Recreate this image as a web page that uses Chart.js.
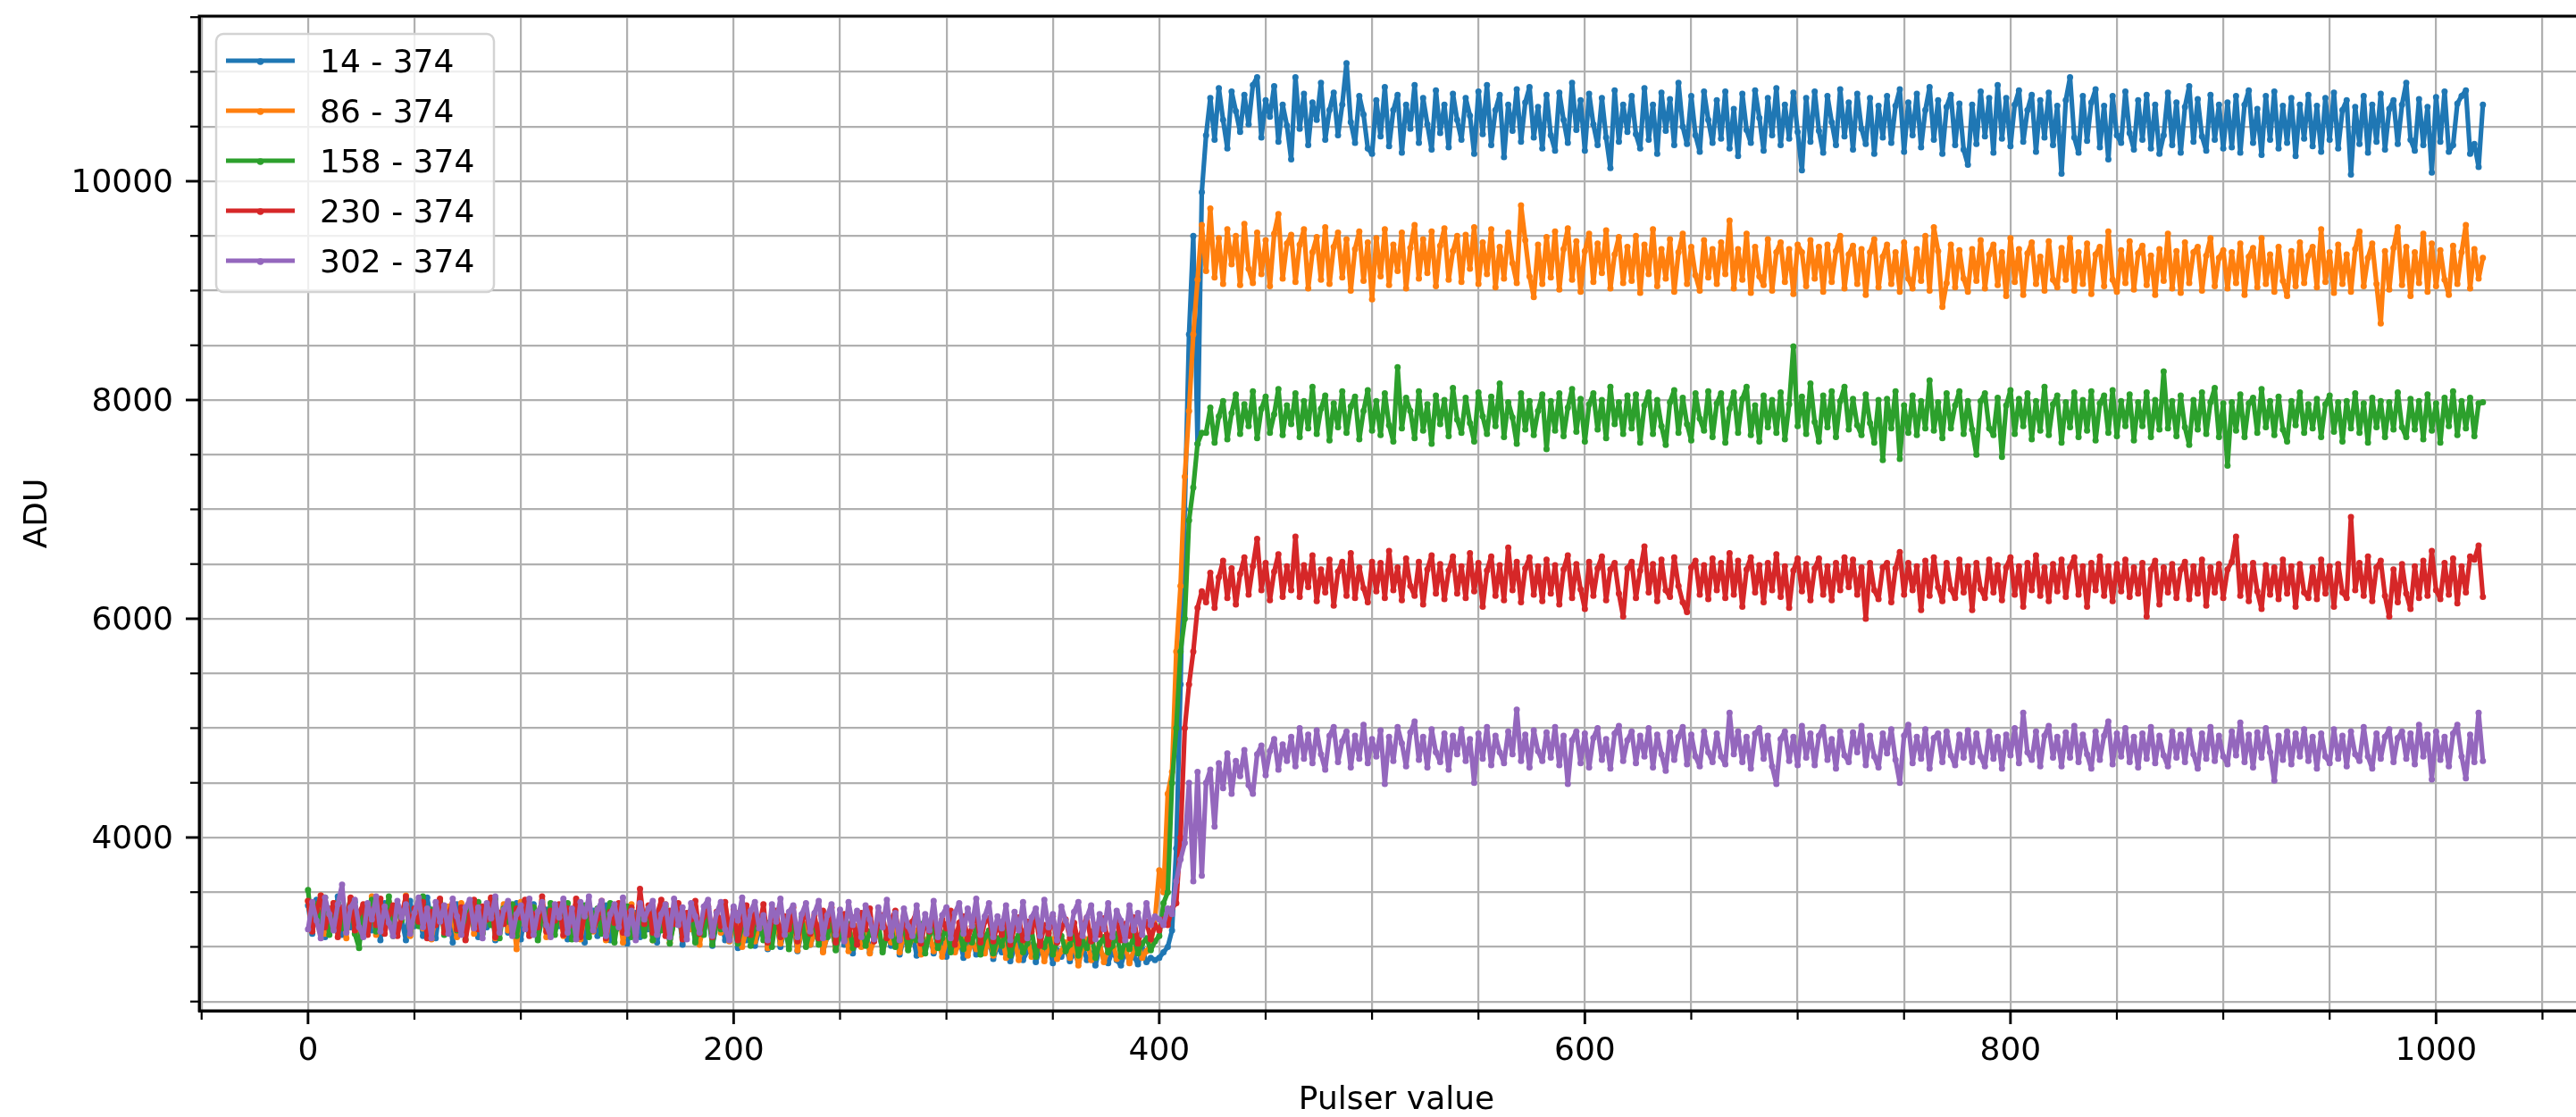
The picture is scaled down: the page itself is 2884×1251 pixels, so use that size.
<!DOCTYPE html>
<html>
<head>
<meta charset="utf-8">
<title>ADU vs pulser value</title>
<script src="https://cdn.jsdelivr.net/npm/chart.js@4/dist/chart.umd.min.js"></script>
<style>
html, body { margin: 0; padding: 0; background: #ffffff; }
#wrap { width: 2884px; height: 1251px; overflow: hidden; position: relative; background: #ffffff; }
canvas { display: block; }
</style>
</head>
<body>
<div id="wrap"><canvas id="chart" width="2960" height="1251"></canvas></div>
<script>
// Pulser settings (x values shared by every curve)
const pulser = [0,2,4,6,8,10,12,14,16,18,20,22,24,26,28,30,32,34,36,38,40,42,44,46,48,50,52,54,56,58,60,62,64,66,68,70,72,74,76,78,80,82,84,86,88,90,92,94,96,98,100,102,104,106,108,110,112,114,116,118,120,122,124,126,128,130,132,134,136,138,140,142,144,146,148,150,152,154,156,158,160,162,164,166,168,170,172,174,176,178,180,182,184,186,188,190,192,194,196,198,200,202,204,206,208,210,212,214,216,218,220,222,224,226,228,230,232,234,236,238,240,242,244,246,248,250,252,254,256,258,260,262,264,266,268,270,272,274,276,278,280,282,284,286,288,290,292,294,296,298,300,302,304,306,308,310,312,314,316,318,320,322,324,326,328,330,332,334,336,338,340,342,344,346,348,350,352,354,356,358,360,362,364,366,368,370,372,374,376,378,380,382,384,386,388,390,392,394,396,398,400,402,404,406,408,410,412,414,416,418,420,422,424,426,428,430,432,434,436,438,440,442,444,446,448,450,452,454,456,458,460,462,464,466,468,470,472,474,476,478,480,482,484,486,488,490,492,494,496,498,500,502,504,506,508,510,512,514,516,518,520,522,524,526,528,530,532,534,536,538,540,542,544,546,548,550,552,554,556,558,560,562,564,566,568,570,572,574,576,578,580,582,584,586,588,590,592,594,596,598,600,602,604,606,608,610,612,614,616,618,620,622,624,626,628,630,632,634,636,638,640,642,644,646,648,650,652,654,656,658,660,662,664,666,668,670,672,674,676,678,680,682,684,686,688,690,692,694,696,698,700,702,704,706,708,710,712,714,716,718,720,722,724,726,728,730,732,734,736,738,740,742,744,746,748,750,752,754,756,758,760,762,764,766,768,770,772,774,776,778,780,782,784,786,788,790,792,794,796,798,800,802,804,806,808,810,812,814,816,818,820,822,824,826,828,830,832,834,836,838,840,842,844,846,848,850,852,854,856,858,860,862,864,866,868,870,872,874,876,878,880,882,884,886,888,890,892,894,896,898,900,902,904,906,908,910,912,914,916,918,920,922,924,926,928,930,932,934,936,938,940,942,944,946,948,950,952,954,956,958,960,962,964,966,968,970,972,974,976,978,980,982,984,986,988,990,992,994,996,998,1000,1002,1004,1006,1008,1010,1012,1014,1016,1018,1020,1022];

// ADU readings, one array per channel range
const adu14 = [
3380,3120,3430,3200,3090,3350,3240,3460,3110,3300,3180,3410,3070,3290,3360,3150,3320,3060,3400,3230,
3120,3380,3250,3060,3420,3190,3330,3100,3450,3230,3080,3360,3170,3310,3040,3390,3210,3130,3350,3270,
3090,3320,3180,3420,3060,3280,3370,3130,3260,3400,3070,3300,3160,3390,3080,3250,3340,3110,3300,3190,
3360,3070,3290,3180,3400,3040,3260,3330,3100,3240,3380,3060,3280,3170,3350,3030,3220,3310,3090,3270,
3160,3330,3040,3250,3300,3070,3220,3360,3020,3190,3280,3050,3240,3130,3310,3010,3200,3260,3060,3170,
3250,2990,3180,3060,3270,3010,3150,3230,2980,3120,3240,3000,3160,3080,3220,2960,3130,3190,3020,3110,
3180,2960,3090,3170,2980,3140,3020,3200,2940,3100,3030,3160,2950,3080,3130,2970,3110,3010,3150,2930,
3080,3010,3130,2920,3060,2990,3120,2940,3040,3090,2910,3050,2980,3100,2900,3030,3070,2930,3010,2960,
3060,2890,3000,2950,3070,2870,2990,3040,2880,2960,3020,2860,2980,2930,3030,2850,2970,2910,3000,2870,
2950,2860,3010,2880,2940,2830,2990,2900,2850,2970,2880,2830,2960,2870,2920,2840,2980,2860,2900,2880,
2900,2950,3000,3150,3900,5400,7000,8600,9500,7600,9900,
10420,10760,10380,10850,10560,10300,10820,10640,10450,10790,10520,10880,10950,10400,10740,10590,10870,10360,10700,10510,
10200,10950,10480,10800,10330,10720,10560,10900,10380,10650,10810,10420,10700,11080,10540,10350,10780,10610,10300,10250,
10740,10410,10860,10320,10650,10790,10260,10700,10480,10880,10350,10760,10520,10290,10830,10440,10700,10310,10800,10560,
10380,10760,10600,10250,10820,10430,10880,10330,10650,10790,10220,10700,10460,10840,10360,10720,10860,10400,10680,10300,
10790,10420,10280,10810,10560,10350,10900,10470,10740,10280,10800,10520,10330,10760,10400,10120,10830,10360,10700,10450,
10780,10430,10300,10850,10380,10700,10250,10810,10460,10750,10330,10900,10500,10340,10780,10420,10270,10820,10560,10350,
10740,10390,10820,10300,10660,10230,10800,10470,10350,10830,10580,10280,10760,10420,10850,10330,10700,10390,10810,10450,
10100,10760,10360,10820,10460,10260,10780,10540,10330,10840,10410,10720,10290,10800,10480,10340,10760,10250,10690,10400,
10780,10350,10690,10840,10270,10720,10420,10800,10310,10650,10860,10380,10740,10250,10680,10790,10330,10710,10290,10150,
10700,10340,10820,10410,10760,10260,10880,10390,10760,10320,10700,10830,10360,10650,10790,10270,10740,10400,10810,10330,
10690,10070,10740,10950,10400,10260,10780,10370,10720,10840,10310,10690,10200,10780,10420,10350,10820,10440,10290,10740,
10380,10790,10300,10700,10250,10420,10810,10330,10720,10260,10680,10870,10360,10750,10410,10280,10790,10380,10700,10300,
10720,10310,10780,10260,10700,10830,10350,10660,10240,10780,10380,10820,10300,10690,10350,10760,10230,10700,10390,10790,
10320,10690,10270,10760,10380,10810,10300,10650,10740,10060,10680,10340,10780,10260,10700,10360,10800,10290,10660,10740,
10340,10700,10900,10380,10280,10750,10330,10680,10080,10770,10360,10820,10270,10330,10710,10780,10830,10250,10340,10130,
10700];

const adu86 = [
3420,3150,3330,3470,3120,3290,3400,3180,3350,3080,3440,3230,3130,3380,3260,3460,3110,3300,3190,3410,
3140,3360,3250,3470,3100,3300,3410,3170,3330,3070,3280,3430,3160,3370,3240,3090,3400,3210,3330,3120,
3350,3130,3290,3440,3080,3260,3390,3150,3320,2980,3410,3200,3120,3360,3250,3430,3090,3300,3180,3380,
3100,3330,3210,3420,3070,3280,3360,3140,3250,3400,3060,3290,3180,3350,3040,3260,3390,3130,3300,3200,
3350,3060,3250,3180,3390,3040,3230,3310,3090,3280,3160,3360,3020,3210,3300,3070,3260,3130,3340,3050,
3200,3310,3000,3160,3250,3050,3190,3280,2990,3140,3230,3030,3180,3090,3260,2970,3150,3210,3020,3120,
3200,2950,3100,3170,2990,3140,3220,2960,3080,3190,3000,3120,2940,3060,3160,2980,3110,3040,3190,2950,
3120,2990,3070,3150,2930,3040,3110,2960,3090,2910,3060,3130,2950,3020,3100,2920,3050,2980,3120,2940,
3080,2920,3030,3110,2900,2990,3060,2880,3010,3090,2910,2970,3050,2870,3000,3070,2890,2960,3040,2900,
3050,2830,2990,3070,2880,2950,3030,2860,2980,3060,2890,2940,3010,2850,2970,3040,2900,2960,3020,3250,
3700,3500,4400,4600,5700,6300,7300,7900,8600,9100,9600,
9180,9750,9120,9480,9060,9560,9240,9500,9050,9610,9200,9070,9530,9150,9460,9040,9520,9700,9110,9430,
9510,9080,9420,9560,9020,9350,9490,9100,9580,9060,9400,9530,9120,9470,9000,9380,9540,9090,9440,8920,
9480,9130,9560,9050,9420,9180,9530,9020,9390,9600,9110,9470,9160,9540,9040,9410,9570,9100,9360,9500,
9080,9510,9200,9580,9060,9440,9150,9560,9030,9400,9110,9530,9250,9070,9780,9460,9130,8940,9420,9060,
9490,9120,9540,9010,9380,9570,9100,9450,8990,9360,9520,9080,9430,9160,9550,9020,9330,9490,9070,9400,
9090,9500,8980,9420,9150,9560,9040,9380,9110,9470,8990,9350,9520,9060,9400,9140,9000,9460,9120,9380,
9060,9440,9150,9640,9020,9380,9100,9520,8980,9400,9130,9050,9470,9000,9350,9440,9080,9380,8970,9420,
9350,9040,9460,9110,9400,8990,9420,9080,9360,9500,9020,9330,9410,9060,9380,8960,9350,9470,9030,9310,
9420,9060,9350,8990,9440,9110,9020,9380,9090,9500,9000,9580,9360,8850,9070,9420,9030,9370,9110,8990,
9380,9090,9460,9020,9330,9420,9050,9350,8950,9480,9080,9380,8960,9340,9440,9060,9310,9000,9450,9100,
9030,9390,9100,9480,9000,9350,9060,9430,8970,9330,9400,9040,9540,9100,8990,9370,9070,9450,9010,9340,
9410,9050,9320,8960,9380,9090,9520,9020,9360,8980,9440,9070,9350,9400,9000,9320,9480,9040,9300,9370,
9020,9350,9070,9430,8960,9310,9390,9030,9480,9060,9330,8990,9400,9090,8950,9360,9040,9440,9070,9320,
9400,9030,9560,9080,9350,8980,9420,9060,9330,8990,9380,9540,9040,9300,9430,9060,8700,9360,9010,9390,
9580,9050,9400,8950,9350,9070,9520,8990,9430,9040,9370,9100,8960,9410,9060,9350,9600,9020,9380,9110,
9300];

const adu158 = [
3520,3160,3390,3220,3450,3110,3330,3400,3170,3290,3440,3120,2990,3360,3210,3430,3140,3320,3250,3460,
3100,3370,3240,3430,3130,3300,3190,3460,3090,3340,3250,3410,3110,3280,3380,3150,3330,3070,3400,3200,
3410,3120,3300,3200,3440,3080,3350,3230,3390,3100,3290,3420,3140,3360,3060,3310,3190,3400,3110,3330,
3220,3400,3070,3310,3170,3380,3090,3290,3350,3120,3260,3400,3040,3300,3180,3370,3090,3250,3330,3100,
3340,3060,3250,3150,3370,3030,3220,3300,3090,3260,3330,3040,3200,3110,3350,3020,3240,3160,3310,3070,
3260,3030,3190,3300,3010,3170,3250,3060,3220,3000,3280,3110,3190,2980,3230,3080,3270,3000,3160,3210,
3020,3190,3090,3250,2970,3150,3060,3210,2990,3120,3200,3010,3140,3070,3230,2950,3110,3180,3000,3130,
3190,2970,3100,3060,3210,2940,3120,3170,2990,3080,3190,2950,3090,3150,2980,3110,3040,3180,2930,3090,
3150,2940,3080,3010,3170,2920,3060,3110,2950,3030,3160,2910,3070,3000,3130,2930,3050,3100,2960,3020,
3130,2920,3050,2990,3140,2900,3030,3090,2950,3010,3120,2910,3060,2980,3100,2940,3030,3080,2970,3050,
3100,3400,3500,4500,5000,5700,6000,6900,7200,7600,7700,
7700,7930,7610,7850,7990,7640,7880,8050,7690,7960,7760,8080,7650,7920,8030,7700,7870,8100,7680,7950,
7780,8060,7660,7990,7740,8120,7690,7920,8040,7630,7970,7750,8080,7700,7940,8030,7640,7900,8090,7720,
7990,7680,8060,7770,7620,8300,7740,8020,7900,7650,8080,7720,7960,7600,8040,7780,8000,7670,8110,7820,
7700,8020,7790,7620,8070,7850,7690,8030,7760,8150,7660,7980,7840,7600,8060,7730,7990,7680,7900,8050,
7550,7990,7720,8060,7670,7930,8100,7710,8010,7620,7960,8060,7730,8000,7650,8120,7780,7980,7690,8040,
7740,8050,7610,7950,8070,7690,8000,7760,7590,7980,8090,7700,8020,7780,7630,8060,7830,7720,8080,7660,
7970,8060,7610,7920,8070,7700,8010,8120,7680,7950,7620,8040,7750,8000,7700,8070,7640,7960,8490,7760,
8030,7690,8150,7800,7620,8040,7750,8080,7660,7990,8120,7730,8010,7770,7680,8050,7790,7610,8000,7450,
8010,7740,8080,7460,7950,7700,8040,7680,7990,7740,8180,7720,7980,7650,8060,7740,7950,8080,7690,7990,
7730,7500,7990,8060,7740,7680,8020,7480,7950,8090,7690,8010,7760,8060,7640,7990,7720,8120,7680,7960,
8040,7610,7980,7750,8070,7660,8000,7720,8080,7630,7970,8040,7700,8090,7670,7990,7760,8050,7630,7980,
7760,8070,7660,8000,7730,8260,7740,7990,7670,8040,7750,7590,8000,7730,8070,7690,7980,8110,7660,7970,
7400,7980,7720,8050,7660,7970,8020,7700,8100,7750,7990,7680,8030,7730,7620,7990,7770,8070,7700,7960,
7740,8010,7660,7960,8040,7710,7980,7620,7990,7740,8060,7700,7970,7610,8020,7750,7990,7660,7980,7730,
8070,7750,7660,8010,7730,7990,7640,8050,7720,7970,7610,8020,7760,8080,7680,7990,7740,8020,7670,7970,
7980];

const adu230 = [
3420,3140,3330,3470,3180,3280,3400,3090,3360,3230,3450,3150,3310,3390,3110,3340,3200,3440,3120,3300,
3380,3100,3290,3460,3170,3350,3230,3410,3080,3320,3200,3440,3130,3300,3400,3160,3360,3060,3290,3430,
3160,3370,3250,3450,3090,3310,3210,3400,3120,3350,3270,3430,3100,3300,3180,3460,3140,3330,3240,3390,
3110,3350,3200,3440,3090,3300,3380,3150,3260,3420,3080,3320,3220,3400,3130,3290,3360,3100,3530,3210,
3380,3130,3290,3430,3100,3330,3210,3400,3070,3310,3250,3420,3120,3280,3370,3090,3320,3190,3410,3140,
3340,3060,3260,3380,3110,3300,3170,3390,3040,3250,3330,3090,3280,3160,3360,3050,3240,3310,3120,3290,
3080,3330,3190,3360,3040,3240,3300,3110,3270,3020,3310,3160,3350,3050,3220,3290,3080,3250,3330,3060,
3280,3090,3230,3320,3030,3210,3140,3300,3060,3250,3170,3330,3020,3220,3280,3070,3190,3310,3040,3230,
3260,3050,3200,3110,3300,3020,3180,3270,3060,3230,3140,3290,3010,3200,3120,3280,3040,3170,3250,3080,
3220,3030,3180,3270,3050,3200,3110,3260,3020,3170,3240,3060,3210,3100,3270,3030,3160,3230,3070,3200,
3150,3250,3200,3350,3400,4000,5000,5400,5700,6100,6250,
6150,6420,6100,6380,6530,6190,6460,6130,6410,6560,6220,6480,6730,6260,6510,6170,6430,6590,6200,6480,
6260,6750,6200,6490,6290,6580,6160,6450,6240,6540,6120,6430,6520,6210,6600,6190,6470,6280,6150,6520,
6250,6510,6190,6620,6260,6470,6170,6550,6300,6210,6520,6130,6450,6580,6230,6500,6180,6440,6570,6230,
6480,6190,6600,6250,6510,6110,6440,6570,6210,6490,6170,6650,6260,6520,6150,6460,6560,6220,6480,6160,
6540,6230,6490,6130,6450,6580,6190,6500,6270,6090,6520,6210,6460,6570,6170,6450,6510,6230,6020,6460,
6520,6190,6440,6660,6240,6500,6160,6540,6260,6200,6560,6300,6150,6060,6470,6530,6220,6490,6180,6550,
6260,6510,6190,6600,6220,6530,6110,6450,6560,6240,6490,6150,6510,6260,6590,6200,6480,6100,6440,6550,
6250,6500,6170,6460,6550,6220,6480,6170,6510,6260,6560,6290,6540,6220,6470,6000,6510,6260,6180,6470,
6510,6150,6460,6610,6220,6510,6260,6480,6080,6530,6210,6560,6290,6160,6510,6270,6190,6540,6240,6480,
6080,6510,6270,6190,6540,6240,6490,6170,6470,6560,6220,6480,6110,6510,6260,6580,6210,6470,6160,6500,
6250,6540,6200,6470,6560,6220,6480,6110,6510,6260,6570,6210,6480,6160,6500,6250,6540,6200,6470,6230,
6510,6020,6450,6530,6130,6470,6240,6500,6190,6450,6520,6180,6480,6230,6540,6120,6470,6240,6500,6190,
6450,6520,6750,6210,6480,6160,6510,6250,6090,6490,6220,6470,6180,6540,6230,6480,6110,6500,6240,6190,
6470,6180,6540,6230,6480,6110,6500,6240,6190,6930,6260,6510,6210,6570,6160,6470,6530,6210,6020,6450,
6150,6500,6230,6090,6480,6190,6530,6210,6620,6260,6180,6510,6220,6550,6140,6480,6240,6570,6540,6670,
6200];

const adu302 = [
3160,3410,3240,3080,3450,3300,3150,3390,3570,3130,3360,3430,3180,3090,3400,3250,3460,3140,3370,3220,
3100,3420,3270,3390,3120,3310,3450,3180,3350,3080,3410,3230,3380,3120,3440,3280,3110,3360,3430,3170,
3360,3080,3400,3260,3460,3130,3340,3420,3100,3300,3380,3160,3440,3110,3320,3410,3200,3090,3390,3270,
3440,3130,3350,3070,3410,3280,3460,3150,3340,3420,3100,3300,3390,3180,3450,3120,3330,3060,3400,3250,
3350,3420,3110,3300,3390,3090,3440,3200,3360,3070,3400,3280,3130,3370,3430,3100,3310,3410,3160,3060,
3370,3240,3450,3120,3330,3410,3170,3290,3060,3390,3230,3440,3110,3320,3380,3090,3300,3400,3140,3310,
3420,3080,3290,3390,3110,3340,3050,3410,3200,3330,3090,3380,3250,3070,3360,3180,3430,3100,3310,3060,
3350,3190,3100,3380,3060,3300,3150,3420,3090,3290,3360,3080,3310,3400,3120,3350,3190,3440,3110,3280,
3400,3090,3280,3170,3380,3060,3320,3150,3410,3080,3270,3350,3100,3430,3180,3300,3060,3370,3240,3120,
3320,3410,3100,3270,3380,3070,3300,3160,3400,3090,3330,3240,3060,3380,3150,3310,3110,3400,3200,3280,
3250,3200,3350,3300,3600,3800,3950,4500,3600,4600,3650,
4500,4620,4100,4680,4450,4770,4400,4700,4560,4800,4480,4400,4760,4840,4570,4790,4900,4620,4850,4700,
4920,4650,5000,4720,4940,4680,4980,4760,4620,4930,5010,4690,4880,4970,4640,4930,4720,5030,4680,4900,
4740,4980,4490,4920,4700,5010,4860,4650,4960,5060,4710,4920,4640,4990,4780,4690,4950,4620,4930,4760,
4990,4700,4900,4500,4950,4720,5010,4660,4930,4780,4680,4970,4760,5170,4700,4940,4640,4980,4790,4700,
4960,4730,5010,4660,4930,4490,4890,4970,4680,4950,4640,4910,5000,4710,4900,4630,4950,5020,4700,4890,
4970,4680,4930,4740,5000,4640,4940,4760,4610,4960,4710,4920,5010,4670,4940,4740,4650,4970,4780,4690,
4950,4740,4670,5140,4760,4970,4690,4920,4630,4950,5000,4720,4930,4650,4490,4900,4970,4700,4920,4660,
5020,4730,4950,4660,4930,5010,4710,4900,4630,4970,4750,4690,4960,4780,5020,4660,4930,4740,4640,4950,
4770,4990,4710,4500,4930,5030,4680,4920,4720,4990,4630,4910,4950,4690,4970,4750,4660,4940,4730,4980,
4690,4950,4740,4650,4970,4720,4920,4630,4940,4750,5000,4680,5140,4780,4710,4970,4650,4930,5020,4730,
4920,4650,4960,4730,5020,4690,4940,4760,4630,4970,4710,4930,5060,4670,4950,4740,5000,4690,4920,4640,
4950,4720,5010,4680,4930,4750,4650,4970,4730,4940,4690,4980,4760,4630,4950,4720,5010,4700,4930,4740,
4670,4970,4750,5050,4690,4940,4640,4960,4730,5000,4780,4520,4930,4710,4970,4670,4950,4740,4990,4700,
4920,4630,4950,4740,4680,4990,4720,4930,4650,4970,4760,4700,5010,4740,4630,4950,4720,4920,4990,4690,
4910,4970,4720,4950,4670,5030,4740,4940,4530,4970,4710,4920,4650,4950,5030,4740,4540,4940,4690,5140,
4700];

const seriesLabels = ['14 - 374', '86 - 374', '158 - 374', '230 - 374', '302 - 374'];
const seriesValues = [adu14, adu86, adu158, adu230, adu302];
const seriesColors = ['#1f77b4', '#ff7f0e', '#2ca02c', '#d62728', '#9467bd'];

// Grid positions; labelled (major) ticks are listed separately
const xGridValues = [-50,0,50,100,150,200,250,300,350,400,450,500,550,600,650,700,750,800,850,900,950,1000,1050];
const yGridValues = [2500,3000,3500,4000,4500,5000,5500,6000,6500,7000,7500,8000,8500,9000,9500,10000,10500,11000,11500];
const xTickLabels = [0, 200, 400, 600, 800, 1000];
const yTickLabels = [4000, 6000, 8000, 10000];

const FONT = '"DejaVu Sans", "Liberation Sans", sans-serif';

// Tick marks (long for labelled ticks, short for minor ones) and the axes frame
const frameAndTicks = {
  id: 'frameAndTicks',
  afterDatasetsDraw(chart) {
    const ctx = chart.ctx, ca = chart.chartArea;
    const xs = chart.scales.x, ys = chart.scales.y;
    ctx.save();
    ctx.strokeStyle = '#000000';
    ctx.lineCap = 'butt';
    xGridValues.forEach(v => {
      const major = xTickLabels.includes(v);
      const px = xs.getPixelForValue(v);
      ctx.lineWidth = major ? 2.9 : 2.2;
      ctx.beginPath();
      ctx.moveTo(px, ca.bottom);
      ctx.lineTo(px, ca.bottom + (major ? 15 : 10));
      ctx.stroke();
    });
    yGridValues.forEach(v => {
      const major = yTickLabels.includes(v);
      const py = ys.getPixelForValue(v);
      ctx.lineWidth = major ? 2.9 : 2.2;
      ctx.beginPath();
      ctx.moveTo(ca.left, py);
      ctx.lineTo(ca.left - (major ? 15 : 10), py);
      ctx.stroke();
    });
    ctx.lineWidth = 2.9;
    ctx.beginPath();
    ctx.moveTo(ca.left, ca.top);
    ctx.lineTo(ca.right, ca.top);
    ctx.lineTo(ca.right, ca.bottom);
    ctx.lineTo(ca.left, ca.bottom);
    ctx.closePath();
    ctx.stroke();
    ctx.restore();
  }
};

// Framed legend in the upper-left corner of the plot area
const legendBox = {
  id: 'legendBox',
  afterDraw(chart) {
    const ctx = chart.ctx, ca = chart.chartArea;
    const x0 = ca.left + 19, y0 = ca.top + 20, w = 311, h = 289, r = 8;
    ctx.save();
    ctx.beginPath();
    ctx.moveTo(x0 + r, y0);
    ctx.lineTo(x0 + w - r, y0);
    ctx.arcTo(x0 + w, y0, x0 + w, y0 + r, r);
    ctx.lineTo(x0 + w, y0 + h - r);
    ctx.arcTo(x0 + w, y0 + h, x0 + w - r, y0 + h, r);
    ctx.lineTo(x0 + r, y0 + h);
    ctx.arcTo(x0, y0 + h, x0, y0 + h - r, r);
    ctx.lineTo(x0, y0 + r);
    ctx.arcTo(x0, y0, x0 + r, y0, r);
    ctx.closePath();
    ctx.fillStyle = 'rgba(255,255,255,0.8)';
    ctx.fill();
    ctx.lineWidth = 2.5;
    ctx.strokeStyle = '#d3d3d3';
    ctx.stroke();
    chart.data.datasets.forEach((ds, i) => {
      const cy = y0 + 30 + i * 56;
      ctx.strokeStyle = ds.borderColor;
      ctx.lineWidth = 5;
      ctx.beginPath();
      ctx.moveTo(x0 + 11, cy);
      ctx.lineTo(x0 + 88, cy);
      ctx.stroke();
      ctx.fillStyle = ds.borderColor;
      ctx.beginPath();
      ctx.arc(x0 + 49.5, cy + 1, 3.8, 0, Math.PI * 2);
      ctx.fill();
      ctx.fillStyle = '#000000';
      ctx.font = '36px ' + FONT;
      ctx.textAlign = 'left';
      ctx.textBaseline = 'alphabetic';
      ctx.fillText(ds.label, x0 + 116, cy + 13.4);
    });
    ctx.restore();
  }
};

const datasets = seriesLabels.map((label, k) => ({
  label: label,
  data: pulser.map((p, i) => ({ x: p, y: seriesValues[k][i] })),
  borderColor: seriesColors[k],
  backgroundColor: seriesColors[k],
  borderWidth: 5.2,
  borderJoinStyle: 'round',
  pointRadius: 3.5,
  pointBorderWidth: 0,
  pointBackgroundColor: seriesColors[k],
  tension: 0,
  fill: false,
  order: seriesLabels.length - k
}));

Chart.defaults.font.family = FONT;
Chart.defaults.font.size = 36;
Chart.defaults.color = '#000000';

new Chart(document.getElementById('chart'), {
  type: 'line',
  data: { datasets: datasets },
  options: {
    responsive: false,
    devicePixelRatio: 1,
    animation: false,
    events: [],
    layout: { autoPadding: false, padding: { top: 18, right: 56, left: 0, bottom: 0 } },
    plugins: { legend: { display: false }, tooltip: { enabled: false }, title: { display: false } },
    scales: {
      x: {
        type: 'linear',
        min: -51.15,
        max: 1074.15,
        grid: { color: '#b0b0b0', lineWidth: 2.2, drawTicks: false },
        border: { display: true, color: '#000000', width: 2.9 },
        afterBuildTicks: s => { s.ticks = xGridValues.map(v => ({ value: v })); },
        ticks: {
          autoSkip: false,
          maxRotation: 0,
          padding: 24,
          callback: v => (xTickLabels.includes(v) ? String(v) : '')
        },
        title: {
          display: true,
          text: 'Pulser value',
          font: { size: 36, lineHeight: 1 },
          padding: { top: 0, bottom: 0.4 }
        },
        afterFit: s => { s.height = 119; s.paddingLeft = 0; s.paddingRight = 0; }
      },
      y: {
        type: 'linear',
        min: 2416,
        max: 11510,
        grid: { color: '#b0b0b0', lineWidth: 2.2, drawTicks: false },
        border: { display: true, color: '#000000', width: 2.9 },
        afterBuildTicks: s => { s.ticks = yGridValues.map(v => ({ value: v })); },
        ticks: {
          autoSkip: false,
          padding: 29,
          labelOffset: 2.4,
          callback: v => (yTickLabels.includes(v) ? String(v) : '')
        },
        title: {
          display: true,
          text: 'ADU',
          font: { size: 36, lineHeight: 1 },
          padding: { top: 24.8, bottom: 0 }
        },
        afterFit: s => { s.width = 223; s.paddingTop = 0; s.paddingBottom = 0; }
      }
    }
  },
  plugins: [frameAndTicks, legendBox]
});
</script>
</body>
</html>
